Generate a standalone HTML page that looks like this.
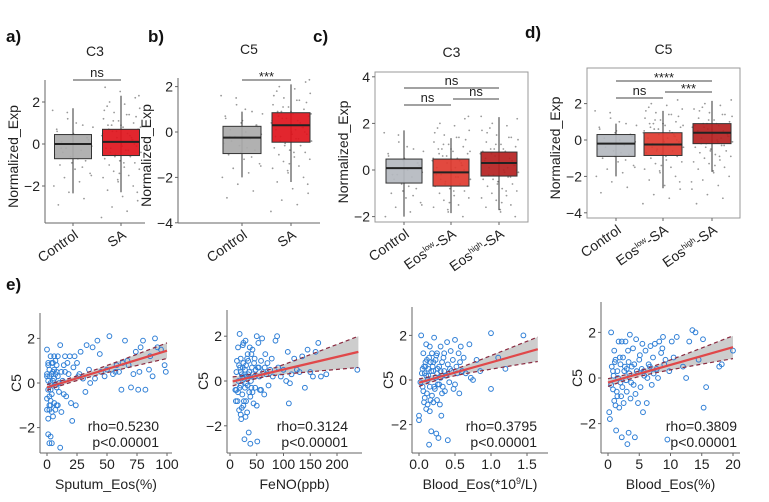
<!DOCTYPE html>
<html><head><meta charset="utf-8">
<style>
html,body{margin:0;padding:0;background:#fff;}
svg{display:block;font-family:"Liberation Sans",Arial,sans-serif;}
.pl{font-size:17px;font-weight:bold;fill:#111;}
.tk{font-size:14px;fill:#222;}
.ti{font-size:14px;fill:#222;}
.st{font-size:13px;fill:#222;}
</style></head>
<body>
<svg id="fig" width="769" height="502" viewBox="0 0 769 502">
<text class="pl" x="6" y="42">a)</text>
<text class="pl" x="148" y="42">b)</text>
<text class="pl" x="313" y="42">c)</text>
<text class="pl" x="525" y="38">d)</text>
<text class="pl" x="6" y="290">e)</text>
</svg>
<script>
// ---------- box plot data ----------
const boxStatsA = [[-2.35,-0.7,0.0,0.45,1.7],[-2.3,-0.55,0.1,0.7,2.3]];
const boxStatsB = [[-2.0,-0.95,-0.25,0.25,0.9],[-2.2,-0.45,0.3,0.85,2.1]];
const boxStatsC = [[-2.0,-0.56,0.08,0.47,1.7],[-1.85,-0.69,-0.1,0.47,1.37],[-1.72,-0.26,0.3,0.77,2.27]];
const boxStatsD = [[-2.0,-0.9,-0.2,0.3,0.9],[-2.65,-0.85,-0.25,0.4,1.6],[-1.75,-0.2,0.4,0.9,2.15]];
const catsAB = ["Control","SA"];
const catsCD = ["Control","low","high"];
const yTicksA = [-2,0,2];
const yTicksB = [-4,-2,0,2];
const yTicksC = [-2,0,2,4];
const yTicksD = [-4,-2,0,2];
const jitterCtrl = [1.6,1.2,0.9,0.6,0.4,0.3,0.1,0.0,-0.1,-0.2,-0.3,-0.5,-0.6,-0.8,-1.0,-1.2,-1.4,-1.6,-1.8,-2.0,-2.3,-2.6,-2.9,0.5,0.2,-0.4,-0.7,0.8,1.5,-1.1,0.7,-0.9,0.3,-0.2,1.0,-1.5];
const jitterCase = [2.7,2.5,2.2,2.0,1.9,1.7,1.5,1.4,1.2,1.1,1.0,0.9,0.8,0.7,0.6,0.5,0.4,0.3,0.2,0.1,0.0,-0.1,-0.2,-0.3,-0.4,-0.5,-0.6,-0.7,-0.8,-0.9,-1.0,-1.1,-1.2,-1.3,-1.5,-1.6,-1.8,-2.0,-2.2,-2.5,-2.7,-3.0,-3.2,-3.5,0.6,0.3,-0.2,0.9,1.3,-0.4,0.1,0.8,-0.6,0.4,1.6,-1.4,0.0,0.7,-0.9,2.3,1.1,-0.3,0.5,-1.7,0.2,1.8,-0.1,-2.3,0.9,1.4];
const sigA = [[0,1,"ns"]];
const sigB = [[0,1,"***"]];
const sigC = [[0,2,"ns"],[0,1,"ns"],[1,2,"ns"]];
const sigD = [[0,2,"****"],[0,1,"ns"],[1,2,"***"]];

// ---------- scatter data ----------
const sputumX=[0,1,1,2,2,3,3,4,4,5,5,6,6,7,7,8,8,9,10,1,3,2,4,1,2,3,4,5,6,2,1,3,0,0,7,8,11,11,12,13,14,15,16,18,19,20,21,22,23,24,25,26,28,30,32,33,35,38,40,42,45,48,52,55,58,60,62,65,67,70,72,74,76,78,80,82,85,88,90,92,95,98,99,12,9,14,17,5,6,7,9,10,4,3,2,1,0,0,8,15,27,36,44,50,57,63,68,77,86];
const sputumY=[1.5,-0.3,0.8,-1.2,0.3,-0.8,1.2,0.4,-0.5,0.9,-1.5,0.2,-0.9,1.0,-0.1,0.5,-1.0,0.3,-0.4,-2.3,-2.4,-2.7,-2.7,-1.6,-1.0,0.0,0.9,0.5,1.2,0.6,0.1,-0.3,-0.7,0.4,-1.2,0.8,-2.9,1.7,-1.3,0.1,0.8,0.5,-0.6,0.4,1.2,-0.9,-1.7,0.7,1.2,-1.0,0.9,0.3,1.4,0.2,-0.4,1.7,0.6,1.6,0.2,1.9,0.5,0.3,2.1,0.4,0.8,0.5,-0.3,1.9,1.0,-0.2,0.4,1.4,-0.3,1.6,1.9,-0.3,0.6,0.3,2.0,1.6,1.5,0.8,0.5,0.5,-1.0,-0.5,0.9,0.1,0.6,0.4,1.2,0.0,-1.3,-1.0,-0.6,0.9,-1.2,0.3,-0.2,1.2,0.4,0.0,1.3,0.6,0.5,0.9,0.8,0.5,1.2];
const fenoX=[10,12,14,15,16,17,18,19,20,20,21,22,23,24,25,25,26,27,28,28,29,30,30,31,32,33,33,34,35,36,37,38,38,39,40,41,42,43,44,45,46,47,48,50,50,51,52,53,55,56,58,60,62,64,66,68,70,72,75,78,80,85,88,90,95,100,105,108,110,112,115,120,125,130,135,140,145,150,155,160,165,170,180,238,11,13,15,18,20,22,24,26,30,32,34,36,40,42,46,54,58,65,20,25,29,23,17,12];
const fenoY=[-0.4,0.4,-0.9,1.5,0.0,-1.3,2.1,0.6,-0.2,1.0,-1.7,0.3,-0.6,1.6,0.8,-1.1,0.1,-2.6,0.5,-0.3,1.8,-0.9,0.7,0.2,-1.4,1.2,-0.2,0.9,-2.3,0.4,1.5,-0.7,-2.8,0.0,1.2,0.6,-0.5,0.3,-1.0,0.8,1.0,-0.3,0.5,-1.1,2.0,-2.7,0.6,1.7,0.2,-0.4,0.9,1.9,0.4,-0.6,1.2,0.3,0.8,-0.2,0.5,1.0,0.2,1.8,2.0,0.6,0.2,0.5,0.0,1.3,-1.0,-0.1,0.3,1.0,0.5,0.4,1.1,-0.3,1.4,0.4,0.2,1.3,1.7,0.2,0.3,0.5,-0.9,0.9,-0.5,-0.3,0.4,-1.2,0.6,-0.9,-0.1,1.0,0.3,-0.5,-0.3,1.4,0.2,0.6,-0.4,0.6,-1.5,1.7,-1.6,0.2,0.7,-0.4];
const bloodAbsX=[0.0,0.0,0.02,0.03,0.05,0.05,0.06,0.07,0.08,0.08,0.09,0.1,0.1,0.11,0.12,0.12,0.13,0.14,0.15,0.15,0.16,0.17,0.18,0.18,0.2,0.2,0.21,0.22,0.23,0.24,0.25,0.25,0.26,0.27,0.28,0.29,0.3,0.3,0.31,0.32,0.33,0.34,0.35,0.36,0.38,0.39,0.4,0.4,0.42,0.44,0.45,0.47,0.5,0.5,0.52,0.55,0.56,0.58,0.6,0.62,0.65,0.7,0.72,0.75,0.8,0.85,1.0,1.0,1.1,1.2,1.45,0.04,0.06,0.09,0.11,0.13,0.14,0.16,0.17,0.19,0.21,0.23,0.24,0.26,0.28,0.32,0.35,0.37,0.43,0.48,0.53,0.57,0.1,0.07,0.15,0.2,0.25,0.3];
const bloodAbsY=[-1.6,-1.8,-0.1,2.0,0.5,-0.3,1.2,-1.0,0.3,-0.8,0.6,1.6,-1.3,0.9,0.0,-1.1,0.5,-2.9,1.5,-0.3,0.8,-2.3,1.2,-0.7,0.4,-1.0,1.9,-0.4,0.9,-2.4,0.3,1.2,-0.2,-2.6,0.6,-1.1,1.5,0.1,-1.6,0.8,-0.3,1.0,0.4,-0.5,0.2,1.7,-2.7,0.7,-0.1,1.3,0.4,0.9,-0.2,1.8,0.6,1.2,-0.6,1.5,0.4,1.0,0.3,1.6,0.1,0.0,0.9,0.4,2.1,-0.4,1.0,0.5,2.0,0.3,-0.5,0.8,-0.6,0.2,1.0,-0.9,0.4,0.6,-0.3,0.1,1.1,0.5,-0.2,-0.6,1.2,0.2,0.5,-0.4,0.3,0.8,0.2,0.6,-1.4,0.8,-0.9,0.4];
const bloodPctX=[0.2,0.3,0.5,0.6,0.8,1.0,1.0,1.2,1.3,1.5,1.5,1.7,1.8,2.0,2.0,2.2,2.2,2.4,2.5,2.6,2.8,3.0,3.1,3.2,3.3,3.4,3.5,3.6,3.8,4.0,4.1,4.3,4.5,4.6,4.8,5.0,5.2,5.4,5.5,5.6,5.8,6.0,6.2,6.5,6.8,7.0,7.2,7.5,7.8,8.0,8.2,8.5,8.8,9.0,9.5,9.8,10.2,10.5,11.0,12.0,12.5,13.0,13.5,14.0,14.5,15.2,15.3,15.7,17.8,18.2,20.0,0.5,0.8,1.1,1.4,1.6,1.9,2.3,2.7,2.9,3.3,3.7,4.2,4.4,5.1,5.7,6.3,6.7,7.3,8.7,9.2,1.2,2.1,0.9,3.0];
const bloodPctY=[-1.5,-1.8,2.0,0.5,-0.5,1.2,-1.0,0.8,-2.3,0.3,-0.8,1.6,-1.3,0.6,-0.2,1.6,-2.6,0.9,-1.1,0.3,1.6,-0.6,-2.9,1.2,-2.4,0.2,1.9,-0.9,0.5,1.3,-0.3,-2.6,1.7,0.3,-1.1,0.8,-0.4,0.4,1.5,-1.5,0.1,1.2,-1.1,0.6,1.4,-0.3,0.9,1.5,0.4,0.0,1.6,1.1,1.8,0.6,-2.7,0.3,1.6,0.9,1.8,0.5,0.0,1.6,2.1,2.0,0.8,1.7,-1.3,-0.4,0.5,0.6,1.2,-0.3,0.3,0.7,-0.6,0.0,0.9,-0.4,0.5,-0.1,0.7,-0.2,0.6,-0.7,1.0,0.3,0.0,0.5,0.2,1.3,0.8,-1.2,-0.8,0.1,0.4];
const fitSputum=[0,-0.2,100,1.45];
const fitFeno=[5,-0.02,240,1.3];
const fitBloodAbs=[0,-0.12,1.65,1.38];
const fitBloodPct=[0,-0.2,20,1.35];
const ciSputum=[20,0.1,0.35];
const ciFeno=[50,0.12,0.7];
const ciBloodAbs=[0.3,0.12,0.55];
const ciBloodPct=[4,0.12,0.5];
const statsE=[["rho=0.5230","p<0.00001"],["rho=0.3124","p<0.00001"],["rho=0.3795","p<0.00001"],["rho=0.3809","p<0.00001"]];

const NS="http://www.w3.org/2000/svg";
const svg=document.getElementById('fig');
function mk(tag,attrs,parent){const e=document.createElementNS(NS,tag);for(const k in attrs)e.setAttribute(k,attrs[k]);(parent||svg).appendChild(e);return e;}
function txt(s,attrs,parent){const e=mk('text',attrs,parent);e.textContent=s;return e;}

function boxPanel(cfg){
  const g=mk('g',{});
  
  
  const Y=v=>cfg.zero-v*cfg.ppu;
  const X=i=>cfg.cx[i];
  if(cfg.frame){const r=mk('rect',{x:cfg.L,y:cfg.T,width:cfg.R-cfg.L,height:cfg.B-cfg.T,fill:'none',stroke:'#999','stroke-width':1},g);
    }
  else{mk('line',{x1:cfg.L,y1:cfg.T,x2:cfg.L,y2:cfg.B,stroke:'#666','stroke-width':1},g);
       mk('line',{x1:cfg.L,y1:cfg.B,x2:cfg.R,y2:cfg.B,stroke:'#666','stroke-width':1},g);}
  const t=txt(cfg.title,{x:(cfg.L+cfg.R)/2,y:cfg.titleY,'text-anchor':'middle',class:'ti'},g);
  
  cfg.ticks.forEach(v=>{
    mk('line',{x1:cfg.L-3,y1:Y(v),x2:cfg.L,y2:Y(v),stroke:'#666'},g);
    const tl=txt(v<0?'\u2212'+(-v):String(v),{x:cfg.L-5,y:Y(v)+5,'text-anchor':'end',class:'tk'},g);
    
  });
  const yl=txt('Normalized_Exp',{x:0,y:0,'text-anchor':'middle',class:'ti',transform:`translate(${cfg.L-27},${(cfg.T+cfg.B)/2+5}) rotate(-90)`},g);
  
  cfg.stats.forEach((s,i)=>{
    const x=X(i),w=cfg.bw;
    const jd=i===0?jitterCtrl:jitterCase;
    jd.forEach((v,k)=>{
      if(v<cfg.ymin||v>cfg.ymax)return;
      const off=(((k*37+i*11)%100)/100-0.5)*w*1.1;
      const c=mk('circle',{cx:x+off,cy:Y(v),r:0.9,fill:'#999'},g);
      
    });
    mk('line',{x1:x,y1:Y(s[0]),x2:x,y2:Y(s[4]),stroke:'#333','stroke-width':1},g);
    const b=mk('rect',{x:x-w/2,y:Y(s[3]),width:w,height:Y(s[1])-Y(s[3]),fill:cfg.colors[i],stroke:'#333','stroke-width':1,'fill-opacity':0.92},g);
    
    mk('line',{x1:x-w/2,y1:Y(s[2]),x2:x+w/2,y2:Y(s[2]),stroke:'#222','stroke-width':2},g);
    mk('line',{x1:x,y1:cfg.B,x2:x,y2:cfg.B+3,stroke:'#666'},g);
    const lbl=mk('text',{x:0,y:0,'text-anchor':'end',class:'tk',transform:`translate(${x+6},${cfg.B+14}) rotate(-35)`},g);
    
    const k=cfg.catKeys[i];
    if(k==='low'||k==='high'){
      const a=mk('tspan',{},lbl);a.textContent='Eos';
      const sp=mk('tspan',{'font-size':'8','dy':'-5'},lbl);sp.textContent=k;
      const c2=mk('tspan',{'dy':'5'},lbl);c2.textContent='-SA';
    } else lbl.textContent=k;
  });
  cfg.sig.forEach((s,j)=>{
    const y=cfg.sigY[j];
    const x1=X(s[0])+(s[0]>0&&cfg.sig.length>1&&j===2?2:0),x2=X(s[1]);
    mk('line',{x1:x1,y1:y,x2:x2,y2:y,stroke:'#444','stroke-width':1},g);
    const st=txt(s[2],{x:(x1+x2)/2,y:s[2]==='ns'?y-3:y+1,'text-anchor':'middle',class:'st','font-size':s[2]==='ns'?14:12},g);
    
  });
}
boxPanel({name:'panel-a-c3',L:45,R:145,T:80,B:223,zero:144,ppu:21,ticks:yTicksA,stats:boxStatsA,cx:[73,121],bw:37,
 colors:['#aaaaaa','#e0141c'],catKeys:catsAB,title:'C3',titleY:56,sig:sigA,sigY:[80],ymin:-3.6,ymax:3});
boxPanel({name:'panel-b-c5',L:178,R:320,T:78,B:223,zero:132,ppu:22.7,ticks:yTicksB,stats:boxStatsB,cx:[242,291],bw:38,
 colors:['#aaaaaa','#e0141c'],catKeys:catsAB,title:'C5',titleY:54,sig:sigB,sigY:[80],ymin:-3.9,ymax:2.4});
boxPanel({name:'panel-c-c3',frame:true,L:375,R:528,T:72,B:222,zero:170,ppu:23.3,ticks:yTicksC,stats:boxStatsC,cx:[404,451,499],bw:36,
 colors:['#b4b8bf','#e03a2f','#b51f1f'],catKeys:catsCD,title:'C3',titleY:57,sig:sigC,sigY:[88,105,99],ymin:-2.1,ymax:2.3});
boxPanel({name:'panel-d-c5',frame:true,L:587,R:740,T:68,B:218,zero:140,ppu:18.2,ticks:yTicksD,stats:boxStatsD,cx:[616,663,712],bw:38,
 colors:['#b4b8bf','#e03a2f','#b51f1f'],catKeys:catsCD,title:'C5',titleY:54,sig:sigD,sigY:[81,98,92],ymin:-4.1,ymax:2.2});

const yTicksE=[-2,0,2];
function scatter(cfg){
  const g=mk('g',{});
  
  
  const X=v=>cfg.x0p+(v-cfg.xt[0])*(cfg.x1p-cfg.x0p)/(cfg.xt[cfg.xt.length-1]-cfg.xt[0]);
  const Y=v=>cfg.zero-v*cfg.ppu;
  mk('line',{x1:cfg.L,y1:cfg.T,x2:cfg.L,y2:cfg.B,stroke:'#666'},g);
  mk('line',{x1:cfg.L,y1:cfg.B,x2:cfg.R,y2:cfg.B,stroke:'#666'},g);
  yTicksE.forEach(v=>{
    mk('line',{x1:cfg.L-3,y1:Y(v),x2:cfg.L,y2:Y(v),stroke:'#666'},g);
    const t=txt(v<0?'\u2212'+(-v):String(v),{x:cfg.L-5,y:Y(v)+5,'text-anchor':'end',class:'tk','font-size':14},g);
    
  });
  cfg.xt.forEach((v,i)=>{
    mk('line',{x1:X(v),y1:cfg.B,x2:X(v),y2:cfg.B+3,stroke:'#666'},g);
    const t=txt(cfg.xtl[i],{x:X(v),y:cfg.B+16,'text-anchor':'middle',class:'tk','font-size':14},g);
    
  });
  const yl=txt('C5',{x:0,y:0,'text-anchor':'middle',class:'ti','font-size':14,transform:`translate(${cfg.L-19},${Y(0)}) rotate(-90)`},g);
  
  const xl=mk('text',{x:(cfg.L+cfg.R)/2,y:cfg.B+36,'text-anchor':'middle',class:'ti','font-size':14},g);
  
  if(cfg.sup){const a=mk('tspan',{},xl);a.textContent='Blood_Eos(*10';const s=mk('tspan',{'font-size':9,dy:-5},xl);s.textContent='9';const b=mk('tspan',{dy:5},xl);b.textContent='/L)';}
  else xl.textContent=cfg.xtitle;
  const f=cfg.fit,ci=cfg.ci;
  const lin=x=>f[1]+(x-f[0])*(f[3]-f[1])/(f[2]-f[0]);
  const hw=x=>{const d=Math.max(Math.abs(f[2]-ci[0]),Math.abs(f[0]-ci[0]));const u=(x-ci[0])/d;return Math.sqrt(ci[1]*ci[1]+(ci[2]*ci[2]-ci[1]*ci[1])*u*u);};
  const up=[],lo=[];
  for(let k=0;k<=30;k++){const x=f[0]+(f[2]-f[0])*k/30;up.push([X(x),Y(lin(x)+hw(x))]);lo.push([X(x),Y(lin(x)-hw(x))]);}
  const band=mk('path',{d:'M'+up.map(p=>p.join(',')).join('L')+'L'+lo.slice().reverse().map(p=>p.join(',')).join('L')+'Z',fill:'#c4c4c4','fill-opacity':0.85,stroke:'none'},g);
  
  cfg.xs.forEach((x,i)=>{
    const c=mk('circle',{cx:X(x),cy:Y(cfg.ys[i]),r:2.4,fill:'none',stroke:'#2f7fd6','stroke-width':1},g);
    
  });
  mk('path',{d:'M'+up.map(p=>p.join(',')).join('L'),fill:'none',stroke:'#8a2a40','stroke-width':1.2,'stroke-dasharray':'4,3'},g);
  mk('path',{d:'M'+lo.map(p=>p.join(',')).join('L'),fill:'none',stroke:'#8a2a40','stroke-width':1.2,'stroke-dasharray':'4,3'},g);
  const ln=mk('line',{x1:X(f[0]),y1:Y(f[1]),x2:X(f[2]),y2:Y(f[3]),stroke:'#e0484a','stroke-width':2.2},g);
  
  const r1=txt(cfg.stats[0],{x:cfg.statX,y:cfg.B-22,'text-anchor':'end',class:'ti','font-size':14},g);
  
  const r2=txt(cfg.stats[1],{x:cfg.statX,y:cfg.B-6,'text-anchor':'end',class:'ti','font-size':14},g);
  
}
scatter({name:'scatter-sputum-eos',L:40,R:172,T:313,B:453,x0p:47,x1p:167,xt:[0,25,50,75,100],xtl:['0','25','50','75','100'],zero:383,ppu:22.3,
 xs:sputumX,ys:sputumY,fit:fitSputum,ci:ciSputum,xtitle:'Sputum_Eos(%)',stats:statsE[0],statX:159});
scatter({name:'scatter-feno',L:227,R:362,T:310,B:453,x0p:230,x1p:337,xt:[0,50,100,150,200],xtl:['0','50','100','150','200'],zero:381,ppu:22.4,
 xs:fenoX,ys:fenoY,fit:fitFeno,ci:ciFeno,xtitle:'FeNO(ppb)',stats:statsE[1],statX:348});
scatter({name:'scatter-blood-eos-abs',L:412,R:548,T:307,B:453,x0p:419,x1p:527,xt:[0,0.5,1.0,1.5],xtl:['0.0','0.5','1.0','1.5'],zero:380,ppu:22.3,
 xs:bloodAbsX,ys:bloodAbsY,fit:fitBloodAbs,ci:ciBloodAbs,sup:true,stats:statsE[2],statX:537});
scatter({name:'scatter-blood-eos-pct',L:601,R:740,T:302,B:453,x0p:608,x1p:733,xt:[0,5,10,15,20],xtl:['0','5','10','15','20'],zero:378,ppu:22.8,
 xs:bloodPctX,ys:bloodPctY,fit:fitBloodPct,ci:ciBloodPct,xtitle:'Blood_Eos(%)',stats:statsE[3],statX:737});
</script>
</body></html>
